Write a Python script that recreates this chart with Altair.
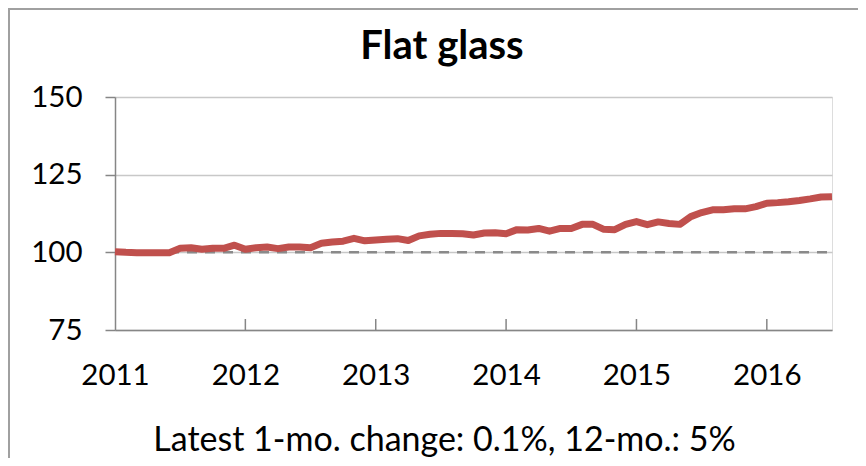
import altair as alt
import pandas as pd

# Monthly index values, Jan 2011 .. Jul 2016
values = [
    100.2, 100.0, 99.9, 99.9, 99.9, 99.9, 101.3, 101.5, 101.0, 101.3, 101.3, 102.3,
    101.0, 101.5, 101.7, 101.2, 101.7, 101.7, 101.5, 102.9, 103.3, 103.6, 104.5, 103.7,
    104.0, 104.2, 104.4, 103.8, 105.3, 105.8, 106.1, 106.1, 106.0, 105.6, 106.2, 106.3,
    106.0, 107.3, 107.2, 107.7, 106.8, 107.7, 107.7, 109.0, 109.0, 107.4, 107.3, 109.0,
    109.9, 108.9, 109.8, 109.3, 109.0, 111.5, 112.8, 113.7, 113.7, 114.0, 114.0, 114.7,
    115.8, 116.0, 116.3, 116.7, 117.2, 117.8, 117.9,
]
months = list(range(len(values)))
year_ticks = [0, 12, 24, 36, 48, 60]
inner_ticks = [12, 24, 36, 48, 60]
y_ticks = [75, 100, 125, 150]
title_text = "Flat glass"
footer_text = "Latest 1-mo. change: 0.1%, 12-mo.: 5%"

W, H = 717, 233
FONT = "Lato"

df = pd.DataFrame({"month": months, "value": values})

xscale = alt.Scale(domain=[0, 66], nice=False, zero=False)
yscale = alt.Scale(domain=[75, 150], nice=False, zero=False)

base = alt.Chart(df)

line = base.mark_line(color="#c0504d", strokeWidth=7, strokeJoin="round", strokeCap="butt").encode(
    x=alt.X("month:Q", scale=xscale,
            axis=alt.Axis(values=year_ticks, labelExpr="toString(2011 + datum.value / 12)",
                          ticks=False, grid=False, domainColor="#868686", domainWidth=1.5,
                          labelFont=FONT, labelFontSize=29.5, labelColor="#000000",
                          labelPadding=31, labelFlush=False,
                          title=footer_text, titleFont=FONT, titleFontSize=34,
                          titleFontWeight="normal", titleColor="#000000",
                          titleX=329, titleY=120, titleBaseline="alphabetic",
                          titleAnchor="start", titleAlign="center")),
    y=alt.Y("value:Q", scale=yscale,
            axis=alt.Axis(values=y_ticks, grid=True, gridColor="#c8c8c8", gridWidth=1.5,
                          domainColor="#868686", domainWidth=1.5, tickColor="#868686",
                          tickSize=10, tickWidth=1.5, labelFont=FONT, labelFontSize=29.5,
                          labelColor="#000000", labelPadding=23, title=None)),
)

ref = alt.Chart(pd.DataFrame({"y": [100]})).mark_rule(
    color="#8a8a8a", strokeWidth=2.5, strokeDash=[10, 8]
).encode(y=alt.Y("y:Q", scale=yscale), x=alt.value(0), x2=alt.value(W))

ticks = alt.Chart(pd.DataFrame({"t": inner_ticks})).mark_rule(
    color="#868686", strokeWidth=1.5
).encode(x=alt.X("t:Q", scale=xscale), y=alt.value(H), y2=alt.value(H - 11))

title = alt.Chart(pd.DataFrame({"t": [title_text]})).mark_text(
    font=FONT, fontSize=40, fontWeight="bold", color="#000000", align="center", baseline="alphabetic"
).encode(text="t:N", x=alt.value(327), y=alt.value(-38))

border_top = alt.Chart(pd.DataFrame({"a": [0]})).mark_rule(color="#a0a0a0", strokeWidth=2).encode(
    x=alt.value(-107), x2=alt.value(W + 26), y=alt.value(-88))
border_left = alt.Chart(pd.DataFrame({"a": [0]})).mark_rule(color="#a0a0a0", strokeWidth=2).encode(
    x=alt.value(-106), y=alt.value(-89), y2=alt.value(H + 128))

chart = alt.layer(border_top, border_left, ref, line, ticks, title).properties(
    width=W, height=H,
    autosize=alt.AutoSizeParams(type="none"),
    padding={"left": 107, "top": 89, "right": 26, "bottom": 128},
).configure_view(stroke=None).configure(background="white")

chart.save("out.html", embed_options={"renderer": "svg", "actions": False})
